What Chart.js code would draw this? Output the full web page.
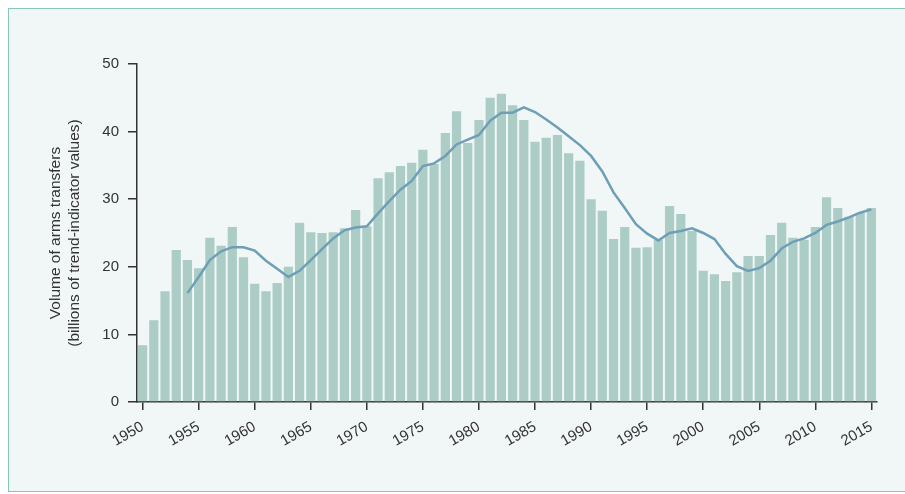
<!DOCTYPE html>
<html>
<head>
<meta charset="utf-8">
<script src="https://cdn.jsdelivr.net/npm/chart.js@4"></script>
<style>
  html, body { margin: 0; padding: 0; background: #ffffff; }
  .frame {
    position: absolute; left: 8px; top: 8px; width: 1000px; height: 484px;
    background: #f1f6f6; border: 1.5px solid #86c6bb; box-sizing: border-box;
  }
  .wrap { position: absolute; left: 0; top: 0; width: 905px; height: 494px; }
</style>
</head>
<body>
<div class="frame"></div>
<div class="wrap"><canvas id="armsChart" width="905" height="494"></canvas></div>
<script>
// years 1950-2015
const years = [];
for (let y = 1950; y <= 2015; y++) years.push(String(y));

// annual volume (billions of TIV)
const annualVolume = [
  8.4, 12.1, 16.4, 22.5, 21.0, 19.8, 24.3, 23.1, 25.9, 21.4,
  17.5, 16.4, 17.6, 20.0, 26.5, 25.1, 25.0, 25.1, 25.7, 28.4,
  26.0, 33.1, 34.0, 34.9, 35.4, 37.3, 35.2, 39.8, 43.0, 38.3,
  41.7, 45.0, 45.6, 43.9, 41.7, 38.5, 39.1, 39.5, 36.8, 35.7,
  30.0, 28.3, 24.1, 25.9, 22.8, 22.9, 24.0, 29.0, 27.8, 25.3,
  19.4, 18.9, 17.9, 19.2, 21.6, 21.6, 24.7, 26.5, 24.3, 24.0,
  25.9, 30.3, 28.7, 27.4, 28.0, 28.7
];

// 5-year moving average, starts in 1954
const movingAverage = [
  null, null, null, null, 16.1, 18.5, 21.0, 22.3, 22.9, 22.9,
  22.4, 20.9, 19.7, 18.5, 19.4, 21.0, 22.6, 24.2, 25.4, 25.8,
  26.0, 27.9, 29.7, 31.4, 32.7, 34.9, 35.3, 36.4, 38.1, 38.8,
  39.5, 41.6, 42.8, 42.8, 43.6, 42.9, 41.8, 40.6, 39.3, 38.0,
  36.4, 34.1, 31.0, 28.7, 26.3, 24.9, 23.9, 25.0, 25.3, 25.7,
  25.0, 24.1, 21.9, 20.1, 19.4, 19.8, 20.9, 22.7, 23.7, 24.2,
  25.0, 26.2, 26.7, 27.3, 28.0, 28.5
];

const yTicks = [0, 10, 20, 30, 40, 50];

const tickFont = { family: "'Liberation Sans', Arial, sans-serif", size: 15 };

const ctx = document.getElementById('armsChart').getContext('2d');
const armsChart = new Chart(ctx, {
  data: {
    labels: years,
    datasets: [{
      type: 'line',
      label: 'Moving average',
      data: movingAverage,
      borderColor: '#6e9fb6',
      borderWidth: 2.5,
      pointRadius: 0,
      tension: 0,
      spanGaps: false
    }, {
      type: 'bar',
      label: 'Volume',
      data: annualVolume,
      backgroundColor: '#abcdc6',
      categoryPercentage: 1,
      barPercentage: 0.82
    }]
  },
  options: {
    responsive: false,
    animation: false,
    layout: { padding: { left: 42, top: 64, right: 28, bottom: 0 } },
    plugins: {
      legend: { display: false },
      tooltip: { enabled: false }
    },
    scales: {
      x: {
        offset: true,
        grid: { offset: false, drawOnChartArea: false, drawTicks: true, tickLength: 8, color: '#333', lineWidth: 1.5 },
        border: { display: true, color: '#333', width: 1.5 },
        ticks: {
          autoSkip: false,
          minRotation: 30,
          maxRotation: 30,
          padding: 8,
          color: '#333',
          font: tickFont,
          callback: function (val, i) {
            const y = Number(years[i]);
            return y % 5 === 0 ? years[i] : null;
          }
        },
        afterFit: function (s) { s.height = 92; }
      },
      y: {
        min: 0,
        max: 50,
        afterBuildTicks: function (s) { s.ticks = yTicks.map(v => ({ value: v })); },
        grid: { drawOnChartArea: false, drawTicks: true, tickLength: 9, color: '#333', lineWidth: 1.5 },
        border: { display: true, color: '#333', width: 1.5 },
        ticks: { padding: 9, color: '#333', font: tickFont },
        title: {
          display: true,
          text: ['Volume of arms transfers', '(billions of trend-indicator values)'],
          color: '#333',
          font: { family: "'Liberation Sans', Arial, sans-serif", size: 15.5, lineHeight: 1.25 },
          padding: { top: 4, bottom: 0 }
        },
        afterFit: function (s) { s.width = 95; }
      }
    }
  }
});
</script>
</body>
</html>
